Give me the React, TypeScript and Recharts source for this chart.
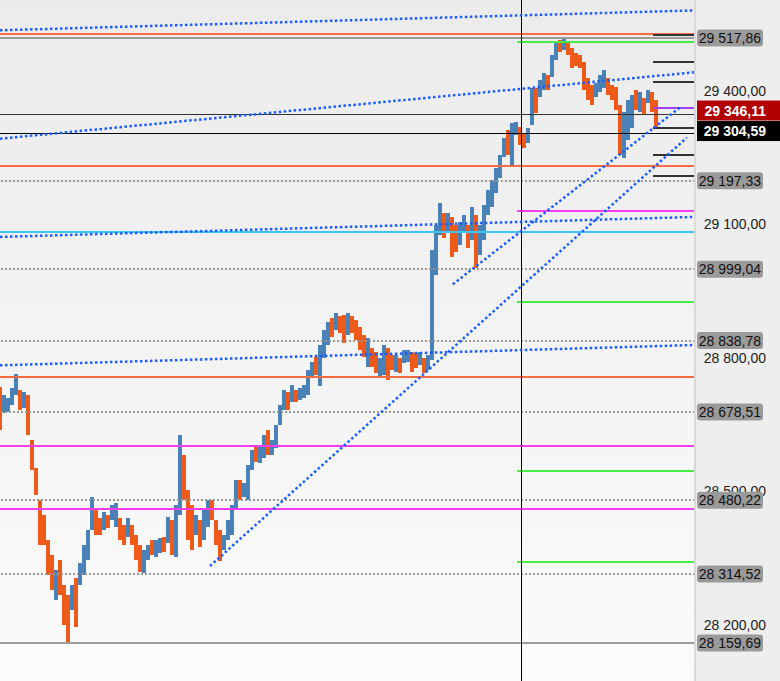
import React from 'react';
import { ComposedChart, Bar, XAxis, YAxis, ReferenceLine } from 'recharts';

// candle highs / lows, one per bar (left to right)
const highs = [
  28734, 28716, 28710, 28732, 28763, 28727, 28723, 28716, 28615, 28552,
  28480, 28447, 28391, 28357, 28323, 28346, 28290, 28267, 28290, 28305,
  28339, 28380, 28413, 28487, 28463, 28440, 28454, 28447, 28469, 28474,
  28440, 28424, 28440, 28424, 28402, 28380, 28368, 28380, 28391, 28391,
  28395, 28397, 28442, 28436, 28469, 28626, 28582, 28503, 28469, 28447,
  28436, 28458, 28480, 28480, 28436, 28413, 28402, 28436, 28469, 28525,
  28525, 28519, 28559, 28593, 28600, 28604, 28626, 28638, 28615, 28649,
  28694, 28727, 28723, 28739, 28727, 28732, 28739, 28772, 28790, 28802,
  28829, 28862, 28880, 28889, 28900, 28894, 28896, 28900, 28894, 28885,
  28869, 28851, 28844, 28822, 28813, 28799, 28829, 28822, 28806, 28806,
  28799, 28817, 28817, 28813, 28810, 28813, 28799, 28806, 29042, 29098,
  29147, 29125, 29125, 29116, 29098, 29105, 29120, 29098, 29138, 29120,
  29098, 29143, 29176, 29199, 29226, 29255, 29293, 29311, 29327, 29329,
  29318, 29304, 29316, 29405, 29405, 29423, 29439, 29435, 29480, 29509,
  29513, 29518, 29510, 29495, 29484, 29480, 29464, 29428, 29412, 29417,
  29435, 29446, 29428, 29412, 29408, 29367, 29352, 29379, 29390, 29401,
  29397, 29383, 29401, 29397, 29378,
];

const lows = [
  28638, 28676, 28678, 28694, 28716, 28683, 28687, 28626, 28548, 28492,
  28380, 28380, 28312, 28278, 28256, 28267, 28200, 28160, 28234, 28195,
  28290, 28312, 28346, 28413, 28402, 28402, 28413, 28418, 28436, 28420,
  28391, 28380, 28397, 28380, 28346, 28319, 28317, 28346, 28357, 28353,
  28362, 28364, 28384, 28357, 28353, 28447, 28480, 28391, 28368, 28402,
  28375, 28391, 28420, 28436, 28380, 28344, 28368, 28391, 28402, 28458,
  28480, 28487, 28480, 28548, 28566, 28564, 28575, 28582, 28582, 28597,
  28649, 28683, 28683, 28700, 28700, 28705, 28710, 28716, 28754, 28761,
  28736, 28799, 28829, 28846, 28862, 28855, 28833, 28851, 28855, 28840,
  28817, 28802, 28779, 28779, 28766, 28754, 28761, 28750, 28772, 28768,
  28766, 28788, 28790, 28768, 28777, 28784, 28766, 28772, 28795, 28986,
  29075, 29069, 29080, 29026, 29037, 29053, 29082, 29046, 29064, 29001,
  29031, 29064, 29120, 29138, 29170, 29203, 29251, 29255, 29233, 29300,
  29278, 29271, 29282, 29322, 29349, 29385, 29401, 29401, 29430, 29468,
  29486, 29491, 29480, 29450, 29455, 29450, 29401, 29379, 29367, 29385,
  29397, 29405, 29390, 29379, 29356, 29255, 29248, 29289, 29316, 29356,
  29352, 29345, 29372, 29352, 29316,
];

// u = rising bar (blue), d = falling bar (orange)
const directions =
  'duuuududdd' + 'ddddudddud' + 'uuuudduduu' + 'dduddduudu' + 'ududuudddu' +
  'duuddduuuu' + 'duuuduuduu' + 'uududuuuud' + 'uuududdudd' + 'ddudduuddu' +
  'duudduduuu' + 'ududduudud' + 'uuuuuuuduu' + 'dduuduuduu' + 'dudddddddu' +
  'uudddduuud' + 'ududd';

const axisTicks = [29400, 29100, 28800, 28500, 28200];
const levelBadges = [29517.86, 29197.33, 28999.04, 28838.78, 28678.51, 28480.22, 28314.52, 28159.69];
const dottedLevels = [29197.33, 28999.04, 28838.78, 28678.51, 28480.22, 28314.52];
const solidGrayLevels = [29517.86, 28159.69];
const lastPrice = 29346.11;
const bidPrice = 29304.59;

const orangeLevels = [29527.6, 29231.3, 28757.0];
const magentaLevels = [28602.1, 28460.7];
const cyanLevels = [29083.1];
const magentaPartial = [29130.2];
const greenPartial = [29509.6, 28925.3, 28546.0, 28342.4];
const shortMarks = [29524.6, 29464.7, 29419.8, 29315.2, 29255.3, 29208.8];
const purpleMarks = [29361.4];

// dotted trend lines: [x1, y1, x2, y2] in bar index / price
const trendLines = [
  [0, 29535.2, 173.75, 29579.9],
  [0, 29291.9, 173.75, 29441.1],
  [0, 29071.4, 173.75, 29116.3],
  [0, 28783.2, 173.75, 28828.8],
  [113.2, 28965.0, 170.25, 29363.7],
  [52.5, 28332.7, 171.7, 29294.1],
];

const cursorIndex = 130.25;
const partialStart = 129.2;
const marksStart = 163.2;
const xMax = 173.75;
const yDomain = [28074.6, 29603.2];

const BLUE = '#4a82b8';
const ORANGE = '#ee5a1a';
const FONT = '"Liberation Sans", Arial, sans-serif';

const data = highs.map((h, i) => ({
  i,
  range: [lows[i], h],
  up: directions[i] === 'u',
}));

const fmt = (v: number) => {
  const [a, b] = v.toFixed(2).split('.');
  return a.replace(/\B(?=(\d{3})+(?!\d))/g, ' ') + ',' + b;
};

const Candle = (props: any) => {
  const { x, y, width, height, payload } = props;
  const top = height < 0 ? y + height : y;
  return (
    <rect
      x={x}
      y={top}
      width={width}
      height={Math.max(Math.abs(height), 1)}
      fill={payload.up ? BLUE : ORANGE}
      shapeRendering="crispEdges"
    />
  );
};

const AxisTick = (props: any) => {
  const { x, y, payload } = props;
  const v = payload.value;
  const label = fmt(v);
  if (v === lastPrice) {
    return (
      <g>
        <rect x={x + 2} y={y - 14} width={85} height={20} fill="#b20000" />
        <text x={x + 71} y={y - 3.5} textAnchor="end" dominantBaseline="central" fill="#fff" fontWeight="bold" fontSize={14} fontFamily={FONT}>{label}</text>
      </g>
    );
  }
  if (v === bidPrice) {
    return (
      <g>
        <rect x={x + 2} y={y - 12} width={85} height={20} fill="#000" />
        <text x={x + 71} y={y - 2} textAnchor="end" dominantBaseline="central" fill="#fff" fontWeight="bold" fontSize={14} fontFamily={FONT}>{label}</text>
      </g>
    );
  }
  if (levelBadges.includes(v)) {
    return (
      <g>
        <rect x={x + 2} y={y - 8.5} width={66} height={17} rx={3} fill="#9a9a9a" />
        <text x={x + 66} y={y} textAnchor="end" dominantBaseline="central" fill="#111" fontSize={14} fontFamily={FONT}>{label}</text>
      </g>
    );
  }
  return (
    <text x={x + 71} y={y} textAnchor="end" dominantBaseline="central" fill="#222" fontSize={14} fontFamily={FONT}>{label}</text>
  );
};

const hLine = (v: number, stroke: string, key: string, extra: any = {}) => (
  <ReferenceLine key={key} y={v} stroke={stroke} strokeWidth={2} shapeRendering="crispEdges" {...extra} />
);

const segLine = (x1: number, v: number, stroke: string, key: string, extra: any = {}) => (
  <ReferenceLine
    key={key}
    segment={[{ x: x1, y: v }, { x: xMax, y: v }]}
    stroke={stroke}
    strokeWidth={2}
    shapeRendering="crispEdges"
    {...extra}
  />
);

export default function App() {
  return (
    <div
      style={{
        position: 'absolute',
        left: 0,
        top: 0,
        width: 780,
        height: 681,
        background: 'linear-gradient(to bottom, #ebebeb, #fbfbfb) 0 0 / 695px 100% no-repeat, #eeeeee',
      }}
    >
      <ComposedChart width={780} height={681} data={data} margin={{ top: 0, right: 0, bottom: 0, left: 0 }} barGap={0}>
        <XAxis dataKey="i" type="number" domain={[0, xMax]} allowDataOverflow hide />
        <YAxis
          orientation="right"
          width={85}
          domain={yDomain}
          allowDataOverflow
          ticks={[...axisTicks, ...levelBadges, lastPrice, bidPrice]}
          interval={0}
          tickLine={false}
          tickSize={0}
          tickMargin={0}
          axisLine={{ stroke: '#d9d9d9', strokeWidth: 2 }}
          tick={<AxisTick />}
        />
        <Bar dataKey="range" barSize={4} shape={<Candle />} isAnimationActive={false} />

        {dottedLevels.map((v, k) => hLine(v, '#999', 'dot' + k, { strokeDasharray: '2 2' }))}
        {solidGrayLevels.map((v, k) => hLine(v, '#9c9c9c', 'gs' + k))}
        {orangeLevels.map((v, k) => hLine(v, '#f66c40', 'or' + k))}
        {magentaLevels.map((v, k) => hLine(v, '#f53cf0', 'mg' + k))}
        {cyanLevels.map((v, k) => hLine(v, '#3cc6f5', 'cy' + k))}
        {magentaPartial.map((v, k) => segLine(partialStart, v, '#f53cf0', 'mp' + k))}
        {greenPartial.map((v, k) => segLine(partialStart, v, '#44ee44', 'gp' + k))}
        {shortMarks.map((v, k) => segLine(marksStart, v, '#333', 'sm' + k))}
        {purpleMarks.map((v, k) => segLine(marksStart, v, '#a040f0', 'pm' + k))}
        <ReferenceLine y={lastPrice} stroke="#333" strokeWidth={1} shapeRendering="crispEdges" />
        <ReferenceLine y={bidPrice} stroke="#000" strokeWidth={1} shapeRendering="crispEdges" />
        <ReferenceLine x={cursorIndex} stroke="#000" strokeWidth={1} shapeRendering="crispEdges" />

        {trendLines.map((t, k) => (
          <ReferenceLine
            key={'tr' + k}
            segment={[{ x: t[0], y: t[1] }, { x: t[2], y: t[3] }]}
            stroke="#1a5cff"
            strokeWidth={2.5}
            strokeDasharray="2.5 2.5"
          />
        ))}
      </ComposedChart>
    </div>
  );
}
